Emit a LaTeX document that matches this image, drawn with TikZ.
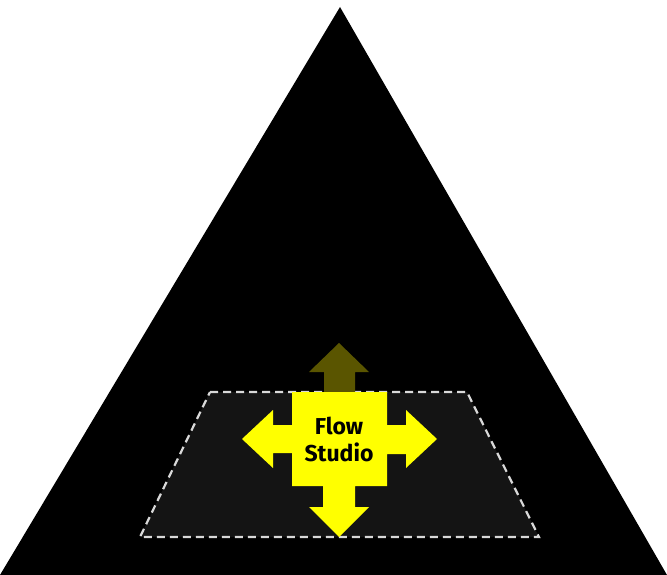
\documentclass[tikz,border=0pt]{standalone}
\usepackage{fontspec}
\setsansfont{Fira Sans}
\usepackage{tikz}
\usetikzlibrary{positioning,calc}
\definecolor{fsYellow}{HTML}{FFFF00}
\definecolor{fsDim}{HTML}{5A5500}
\definecolor{fsPlane}{HTML}{141414}
\definecolor{fsDash}{HTML}{D9D9D9}
\tikzset{
    fsPeak/.style={fill=black},
    fsPlaneBox/.style={fill=fsPlane, draw=fsDash, line width=2.2pt, dash pattern=on 8pt off 5pt},
    fsCross/.style={fill=fsYellow},
    fsGhost/.style={fill=fsDim},
    fsLabel/.style={font=\sffamily\bfseries\fontsize{23}{27}\selectfont, align=center, text=black, inner sep=0pt}
}
\begin{document}
\begin{tikzpicture}[x=1pt, y=-1pt]
\useasboundingbox (0,0) rectangle (667,575);
% pyramid
\coordinate (apex) at (340,7);
\coordinate (baseL) at (0,575);
\coordinate (baseR) at (667,575);
\fill[fsPeak] (baseL) -- (apex) -- (baseR) -- cycle;
% plane
\coordinate (pTL) at (210,392);
\coordinate (pTR) at (467,392);
\coordinate (pBR) at (539,537);
\coordinate (pBL) at (140,537);
\draw[fsPlaneBox] (pTL) -- (pTR) -- (pBR) -- (pBL) -- cycle;
% faded upward arrow
\coordinate (c) at (339,439);
\fill[fsGhost] (324,392) -- (324,372) -- (309,372) -- (339,343) -- (369,372) -- (355,372) -- (355,392) -- cycle;
% four-way cross
\fill[fsCross] (292,392) -- (387,392) -- (387,425) -- (406,425) -- (406,410) -- (437,439)
    -- (406,468) -- (406,454) -- (387,454) -- (387,486) -- (355,486) -- (355,507) -- (369,507)
    -- (339,537) -- (309,507) -- (323,507) -- (323,486) -- (292,486) -- (292,453) -- (273,453)
    -- (273,468) -- (242,439) -- (273,410) -- (273,425) -- (292,425) -- cycle;
\node[fsLabel] (studio) at (c) {Flow\\Studio};
\end{tikzpicture}
\end{document}
